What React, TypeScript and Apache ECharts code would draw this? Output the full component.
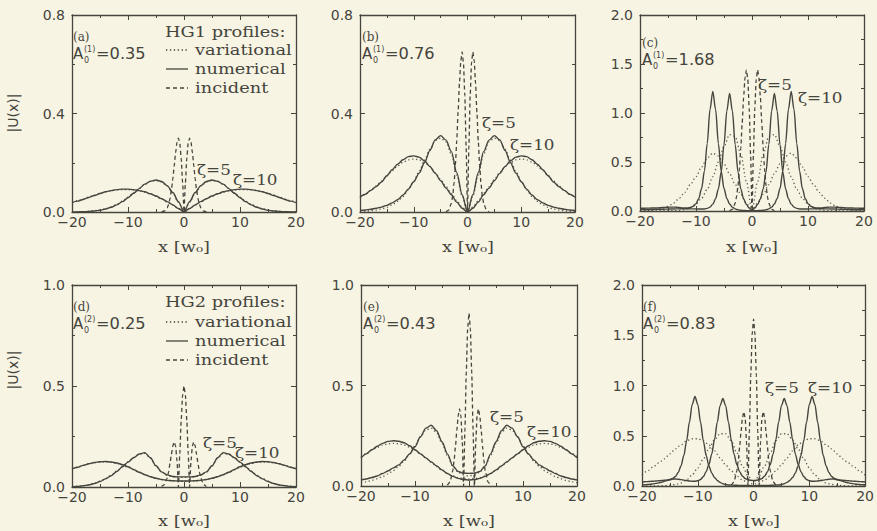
import React, { useEffect, useRef } from "react";
import * as echarts from "echarts";

// ---------- x grids (half profiles, x >= 0; profiles are symmetric) ----------
const X1 = [0, 1, 2, 3, 4, 5, 6, 7, 8, 9, 10, 11, 12, 13, 14, 15, 16, 17, 18, 19, 20];
const X05 = [
  0, 0.5, 1, 1.5, 2, 2.5, 3, 3.5, 4, 4.5, 5, 5.5, 6, 6.5, 7, 7.5, 8, 8.5, 9, 9.5,
  10, 10.5, 11, 11.5, 12, 12.5, 13, 13.5, 14, 14.5, 15, 15.5, 16, 16.5, 17, 17.5, 18, 18.5, 19, 19.5, 20,
];
const XI = [0, 0.25, 0.5, 0.75, 1, 1.25, 1.5, 1.75, 2, 2.25, 2.5, 2.75, 3, 3.5, 4];

// ---------- incident profiles ----------
const incA = [0, 0.12, 0.218, 0.28, 0.3, 0.283, 0.241, 0.187, 0.134, 0.089, 0.054, 0.031, 0.017, 0.004, 0.001];
const incB = [0, 0.26, 0.473, 0.606, 0.65, 0.613, 0.522, 0.406, 0.29, 0.192, 0.118, 0.067, 0.036, 0.008, 0.001];
const incC = [0, 0.575, 1.048, 1.344, 1.44, 1.359, 1.156, 0.899, 0.642, 0.425, 0.261, 0.149, 0.079, 0.018, 0.003];
const incD = [0.5, 0.455, 0.331, 0.165, 0, 0.129, 0.203, 0.223, 0.203, 0.162, 0.116, 0.075, 0.044, 0.012, 0.003];
const incE = [0.86, 0.782, 0.569, 0.284, 0, 0.221, 0.349, 0.384, 0.349, 0.278, 0.199, 0.129, 0.076, 0.021, 0.004];
const incF = [1.66, 1.509, 1.099, 0.548, 0, 0.427, 0.674, 0.74, 0.674, 0.536, 0.383, 0.249, 0.148, 0.041, 0.008];

// ---------- panel (a) HG1, A0=0.35 ----------
const numA5 = [0, 0.042, 0.079, 0.107, 0.124, 0.13, 0.125, 0.113, 0.095, 0.076, 0.058, 0.042, 0.029, 0.019, 0.012, 0.007, 0.004, 0.002, 0.001, 0.0005, 0];
const numA10 = [0, 0.0145, 0.029, 0.042, 0.054, 0.065, 0.074, 0.082, 0.087, 0.091, 0.093, 0.093, 0.091, 0.087, 0.082, 0.075, 0.067, 0.059, 0.051, 0.044, 0.038];
const varA5 = [0, 0.04, 0.077, 0.105, 0.122, 0.128, 0.124, 0.113, 0.096, 0.078, 0.06, 0.044, 0.031, 0.021, 0.013, 0.008, 0.005, 0.003, 0.001, 0.0005, 0];
const varA10 = [0, 0.014, 0.028, 0.041, 0.053, 0.064, 0.073, 0.08, 0.086, 0.089, 0.091, 0.091, 0.09, 0.087, 0.082, 0.076, 0.069, 0.061, 0.053, 0.046, 0.04];

// ---------- panel (b) HG1, A0=0.76 ----------
const numB5 = [0, 0.07, 0.16, 0.245, 0.292, 0.31, 0.293, 0.25, 0.2, 0.158, 0.123, 0.093, 0.069, 0.05, 0.037, 0.027, 0.02, 0.015, 0.011, 0.008, 0.006];
const numB10 = [0, 0.015, 0.04, 0.07, 0.097, 0.127, 0.157, 0.185, 0.208, 0.223, 0.228, 0.225, 0.212, 0.194, 0.172, 0.147, 0.122, 0.103, 0.088, 0.072, 0.06];
const varB5 = [0, 0.065, 0.15, 0.235, 0.285, 0.3, 0.29, 0.255, 0.21, 0.165, 0.125, 0.09, 0.063, 0.043, 0.029, 0.019, 0.012, 0.008, 0.005, 0.003, 0.002];
const varB10 = [0, 0.02, 0.045, 0.075, 0.103, 0.132, 0.16, 0.185, 0.202, 0.212, 0.215, 0.212, 0.202, 0.187, 0.168, 0.147, 0.126, 0.106, 0.088, 0.072, 0.058];

// ---------- panel (c) HG1, A0=1.68 (numerical on X05) ----------
const numC5 = [
  0, 0.03, 0.066, 0.124, 0.226, 0.399, 0.676, 1.019, 1.2, 1.019,
  0.676, 0.399, 0.226, 0.126, 0.07, 0.04, 0.027, 0.021, 0.02, 0.02,
  0.021, 0.022, 0.022, 0.023, 0.023, 0.023, 0.022, 0.022, 0.021, 0.02,
  0.02, 0.019, 0.018, 0.018, 0.017, 0.016, 0.016, 0.015, 0.015, 0.015, 0.015,
];
const numC10 = [
  0, 0.002, 0.004, 0.006, 0.007, 0.012, 0.022, 0.04, 0.072, 0.129,
  0.23, 0.406, 0.687, 1.036, 1.22, 1.036, 0.687, 0.406, 0.23, 0.129,
  0.075, 0.048, 0.036, 0.031, 0.03, 0.032, 0.035, 0.038, 0.04, 0.04,
  0.039, 0.037, 0.035, 0.033, 0.031, 0.03, 0.03, 0.029, 0.029, 0.028, 0.028,
];
const varC5 = [0, 0.3, 0.58, 0.76, 0.78, 0.66, 0.5, 0.35, 0.22, 0.13, 0.07, 0.035, 0.015, 0.006, 0.002, 0, 0, 0, 0, 0, 0];
const varC10 = [0, 0.08, 0.17, 0.27, 0.38, 0.48, 0.56, 0.59, 0.54, 0.45, 0.35, 0.27, 0.19, 0.13, 0.08, 0.048, 0.028, 0.016, 0.009, 0.005, 0.003];

// ---------- panel (d) HG2, A0=0.25 ----------
const numD5 = [0.05, 0.05, 0.052, 0.06, 0.075, 0.105, 0.145, 0.17, 0.163, 0.145, 0.123, 0.1, 0.077, 0.056, 0.04, 0.027, 0.017, 0.01, 0.006, 0.003, 0.002];
const numD10 = [0.03, 0.03, 0.031, 0.033, 0.037, 0.043, 0.051, 0.061, 0.073, 0.087, 0.1, 0.111, 0.119, 0.124, 0.126, 0.125, 0.121, 0.115, 0.107, 0.098, 0.09];
const varD5 = [0.048, 0.048, 0.05, 0.058, 0.074, 0.103, 0.142, 0.166, 0.162, 0.146, 0.125, 0.102, 0.079, 0.058, 0.042, 0.029, 0.019, 0.012, 0.007, 0.004, 0.002];
const varD10 = [0.028, 0.029, 0.03, 0.033, 0.037, 0.043, 0.051, 0.061, 0.072, 0.085, 0.098, 0.109, 0.117, 0.122, 0.124, 0.123, 0.12, 0.114, 0.107, 0.099, 0.091];

// ---------- panel (e) HG2, A0=0.43 ----------
const numE5 = [0.063, 0.064, 0.072, 0.1, 0.16, 0.22, 0.275, 0.302, 0.288, 0.245, 0.195, 0.16, 0.13, 0.105, 0.09, 0.075, 0.062, 0.05, 0.042, 0.035, 0.03];
const numE10 = [0.03, 0.032, 0.038, 0.048, 0.062, 0.08, 0.1, 0.12, 0.14, 0.16, 0.18, 0.2, 0.215, 0.223, 0.225, 0.222, 0.212, 0.198, 0.18, 0.16, 0.14];
const varE5 = [0.05, 0.055, 0.068, 0.098, 0.152, 0.212, 0.265, 0.288, 0.278, 0.243, 0.2, 0.16, 0.125, 0.098, 0.077, 0.06, 0.047, 0.036, 0.028, 0.021, 0.016];
const varE10 = [0.035, 0.037, 0.042, 0.05, 0.062, 0.078, 0.097, 0.118, 0.14, 0.16, 0.178, 0.193, 0.204, 0.21, 0.212, 0.21, 0.203, 0.192, 0.178, 0.162, 0.145];

// ---------- panel (f) HG2, A0=0.83 (numerical on X05) ----------
const numF5 = [
  0.055, 0.057, 0.063, 0.075, 0.1, 0.142, 0.214, 0.317, 0.461, 0.636,
  0.8, 0.87, 0.8, 0.636, 0.461, 0.317, 0.214, 0.142, 0.094, 0.065,
  0.052, 0.048, 0.048, 0.05, 0.054, 0.058, 0.063, 0.067, 0.07, 0.068,
  0.062, 0.054, 0.046, 0.038, 0.031, 0.026, 0.021, 0.018, 0.015, 0.013, 0.012,
];
const numF10 = [
  0.004, 0.004, 0.005, 0.005, 0.006, 0.006, 0.007, 0.008, 0.009, 0.01,
  0.015, 0.023, 0.036, 0.055, 0.085, 0.13, 0.2, 0.303, 0.449, 0.634,
  0.812, 0.89, 0.812, 0.634, 0.449, 0.303, 0.2, 0.135, 0.095, 0.075,
  0.065, 0.06, 0.057, 0.055, 0.052, 0.05, 0.048, 0.046, 0.044, 0.042, 0.04,
];
const varF5 = [0.04, 0.1, 0.2, 0.33, 0.45, 0.52, 0.52, 0.46, 0.37, 0.27, 0.18, 0.11, 0.06, 0.03, 0.015, 0.008, 0.004, 0.002, 0.001, 0, 0];
const varF10 = [0.02, 0.03, 0.06, 0.1, 0.15, 0.21, 0.28, 0.35, 0.41, 0.45, 0.47, 0.47, 0.45, 0.41, 0.37, 0.32, 0.27, 0.23, 0.19, 0.15, 0.11];

// ---------- axis ranges / labels ----------
const X_TICKS = [-20, -10, 0, 10, 20];
const Y_MAX = [0.8, 0.8, 2.0, 1.0, 1.0, 2.0];
const Y_STEP = [0.4, 0.4, 0.5, 0.5, 0.5, 0.5];
const AMPS = ["0.35", "0.76", "1.68", "0.25", "0.43", "0.83"];
const ORDERS = ["(1)", "(1)", "(1)", "(2)", "(2)", "(2)"];
const TAGS = ["(a)", "(b)", "(c)", "(d)", "(e)", "(f)"];
const LEGEND_ITEMS = ["variational", "numerical", "incident"];

// ---------- layout ----------
const GRIDS = [
  { left: 72, top: 15, width: 224, height: 197 },
  { left: 360, top: 15, width: 215, height: 197 },
  { left: 640, top: 15, width: 224, height: 196 },
  { left: 72, top: 285, width: 224, height: 202 },
  { left: 361, top: 285, width: 216, height: 201 },
  { left: 642, top: 285, width: 224, height: 201 },
];
// [x, amplitude-line y]
const TAG_POS = [[73, 54], [362, 54], [642, 60], [73, 324], [363, 324], [643, 324]];
const ZETA_POS = [
  [197, 170, 233, 180],
  [482, 123, 510, 145],
  [758, 85, 798, 98],
  [203, 443, 235, 453],
  [490, 417, 527, 432],
  [765, 388, 808, 388],
];
const XTITLE_POS = [[184, 247], [468, 247], [752, 247], [184, 521], [469, 521], [754, 521]];

const LINE = "#45443d";
const BG = "#f7f4e3";
const SERIF = '"DejaVu Serif", serif';
const SANS = '"DejaVu Sans", sans-serif';
const WIDE = 1.27;

const PANELS = [
  { inc: incA, nx: X1, n5: numA5, n10: numA10, v5: varA5, v10: varA10 },
  { inc: incB, nx: X1, n5: numB5, n10: numB10, v5: varB5, v10: varB10 },
  { inc: incC, nx: X05, n5: numC5, n10: numC10, v5: varC5, v10: varC10 },
  { inc: incD, nx: X1, n5: numD5, n10: numD10, v5: varD5, v10: varD10 },
  { inc: incE, nx: X1, n5: numE5, n10: numE10, v5: varE5, v10: varE10 },
  { inc: incF, nx: X05, n5: numF5, n10: numF10, v5: varF5, v10: varF10 },
];

function mirror(xs: number[], ys: number[]): number[][] {
  const out: number[][] = [];
  for (let i = xs.length - 1; i > 0; i--) out.push([-xs[i], ys[i]]);
  for (let i = 0; i < xs.length; i++) out.push([xs[i], ys[i]]);
  return out;
}

const fmtX = (v: number) => (v < 0 ? "\u2212" + String(-v) : String(v));

function txt(text: string, x: number, y: number, font: string, align = "left", extra: any = {}) {
  return {
    type: "text",
    x,
    y,
    silent: true,
    ...extra,
    style: {
      text,
      font,
      fill: LINE,
      align,
      verticalAlign: "middle",
      textAlign: align,
      textVerticalAlign: "middle",
    },
  };
}

function buildOption() {
  const grid: any[] = [];
  const xAxis: any[] = [];
  const yAxis: any[] = [];
  const series: any[] = [];
  const elements: any[] = [];

  const axisBase = (gi: number, pos: string, isX: boolean, label: boolean, idx: number) => ({
    type: "value",
    gridIndex: gi,
    position: pos,
    min: isX ? X_TICKS[0] : 0,
    max: isX ? X_TICKS[X_TICKS.length - 1] : Y_MAX[idx],
    interval: isX ? X_TICKS[1] - X_TICKS[0] : Y_STEP[idx],
    axisLine: { show: true, onZero: false, lineStyle: { color: LINE, width: 1.3 } },
    axisTick: { show: true, inside: true, length: 5, lineStyle: { color: LINE, width: 1 } },
    minorTick: { show: true, splitNumber: 2, length: 3, lineStyle: { color: LINE, width: 1 } },
    splitLine: { show: false },
    minorSplitLine: { show: false },
    axisLabel: {
      show: label,
      color: LINE,
      fontSize: 14,
      fontFamily: SANS,
      margin: isX ? 3 : 7,
      showMinLabel: true,
      showMaxLabel: true,
      formatter: isX ? fmtX : (v: number) => v.toFixed(1),
    },
  });

  PANELS.forEach((p, i) => {
    grid.push({ ...GRIDS[i], containLabel: false });
    xAxis.push(axisBase(i, "bottom", true, true, i));
    xAxis.push(axisBase(i, "top", true, false, i));
    yAxis.push(axisBase(i, "left", false, true, i));
    yAxis.push(axisBase(i, "right", false, false, i));
    const common = {
      type: "line",
      xAxisIndex: 2 * i,
      yAxisIndex: 2 * i,
      showSymbol: false,
      symbol: "none",
      smooth: 0.3,
      smoothMonotone: "x",
      silent: true,
    };
    const dotted = { color: LINE, width: 1.3, type: [1.3, 2.6], opacity: 0.85 };
    const solid = { color: LINE, width: 1.4, type: "solid" };
    const dashed = { color: LINE, width: 1.3, type: [4, 3] };
    series.push({ ...common, name: `var5-${i}`, data: mirror(X1, p.v5), lineStyle: dotted });
    series.push({ ...common, name: `var10-${i}`, data: mirror(X1, p.v10), lineStyle: dotted });
    series.push({ ...common, name: `num5-${i}`, data: mirror(p.nx, p.n5), lineStyle: solid });
    series.push({ ...common, name: `num10-${i}`, data: mirror(p.nx, p.n10), lineStyle: solid });
    series.push({ ...common, name: `inc-${i}`, data: mirror(XI, p.inc), lineStyle: dashed, smooth: 0.2 });

    // panel tag and amplitude label
    const [tx, ay] = TAG_POS[i];
    elements.push(txt(TAGS[i], tx, ay - 17, `12px ${SERIF}`));
    elements.push(txt("A", tx, ay, `15px ${SANS}`));
    elements.push(txt(ORDERS[i], tx + 11, ay - 5, `8px ${SANS}`));
    elements.push(txt("0", tx + 11, ay + 6, `8px ${SANS}`));
    elements.push(txt("=" + AMPS[i], tx + 23, ay, `15px ${SANS}`, "left", { scaleX: 1.08 }));

    // zeta labels
    const [z1x, z1y, z2x, z2y] = ZETA_POS[i];
    elements.push(txt("\u03b6=5", z1x, z1y, `14px ${SERIF}`, "left", { scaleX: 1.2 }));
    elements.push(txt("\u03b6=10", z2x, z2y, `14px ${SERIF}`, "left", { scaleX: 1.2 }));

    // x title
    const [xtx, xty] = XTITLE_POS[i];
    elements.push(txt("x [w\u2080]", xtx, xty, `14px ${SERIF}`, "center", { scaleX: WIDE }));
  });

  // y titles
  elements.push(txt("|U(x)|", 13, 113, `14px ${SANS}`, "center", { rotation: Math.PI / 2 }));
  elements.push(txt("|U(x)|", 13, 370, `14px ${SANS}`, "center", { rotation: Math.PI / 2 }));

  // legends
  const legendBlocks = [
    { title: "HG1 profiles:", ys: [32, 50, 69, 88] },
    { title: "HG2 profiles:", ys: [302, 322, 341, 360] },
  ];
  const dashes = [[1.3, 2.6], null, [4, 3]];
  legendBlocks.forEach((b) => {
    elements.push(txt(b.title, 165, b.ys[0], `14px ${SERIF}`, "left", { scaleX: WIDE }));
    LEGEND_ITEMS.forEach((label, k) => {
      const y = b.ys[k + 1];
      elements.push({
        type: "line",
        silent: true,
        shape: { x1: 166, y1: y, x2: 188, y2: y },
        style: { stroke: LINE, lineWidth: 1.3, lineDash: dashes[k] || undefined },
      });
      elements.push(txt(label, 195, y, `14px ${SERIF}`, "left", { scaleX: WIDE }));
    });
  });

  return {
    animation: false,
    backgroundColor: BG,
    grid,
    xAxis,
    yAxis,
    series,
    graphic: { elements },
  };
}

export default function App() {
  const ref = useRef<HTMLDivElement>(null);
  useEffect(() => {
    document.body.style.margin = "0";
    const chart = echarts.init(ref.current as HTMLDivElement, null, { renderer: "svg" });
    chart.setOption(buildOption() as any);
    return () => chart.dispose();
  }, []);
  return <div ref={ref} style={{ width: 877, height: 531, background: BG }} />;
}
